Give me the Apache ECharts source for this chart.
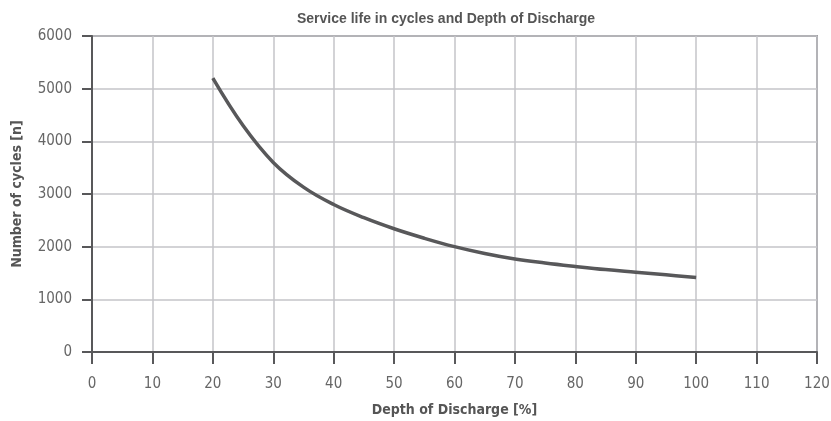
<!DOCTYPE html>
<html>
<head>
<meta charset="utf-8">
<script src="https://cdn.jsdelivr.net/npm/echarts@6/dist/echarts.min.js"></script>
<style>
  html, body { margin: 0; padding: 0; background: #fff; }
  #chart { width: 831px; height: 421px; }
</style>
</head>
<body>
<div id="chart"></div>
<script>
// depth of discharge [%] and cycles
var dod = [20, 25, 30, 35, 40, 45, 50, 55, 60, 65, 70, 75, 80, 85, 90, 95, 100];
var cycles = [5200, 4300, 3600, 3130, 2800, 2550, 2340, 2160, 2000, 1870, 1765, 1690, 1625, 1565, 1515, 1465, 1415];
var xTicks = [0, 120, 10];
var yTicks = [0, 6000, 1000];

var labelFont = '"DejaVu Sans Condensed", "Liberation Sans", sans-serif';
var dark = '#58585a';
var gridCol = '#c4c4c8';

var chart = echarts.init(document.getElementById('chart'));
var option = {
  animation: false,
  title: {
    text: 'Service life in cycles and Depth of Discharge',
    left: 441,
    top: 7,
    textAlign: 'center',
    textStyle: { fontFamily: '"Liberation Sans", sans-serif', fontSize: 14, fontWeight: 'bold', color: '#555' }
  },
  grid: {
    left: 92, right: 14, top: 36, bottom: 69,
    containLabel: false,
    outerBoundsMode: 'none',
    show: true, borderColor: dark, borderWidth: 1.5
  },
  xAxis: {
    type: 'value',
    min: xTicks[0], max: xTicks[1], interval: xTicks[2],
    name: 'Depth of Discharge [%]',
    nameLocation: 'middle',
    nameGap: 51,
    nameTextStyle: { fontFamily: labelFont, fontSize: 14, fontWeight: 'bold', color: '#555' },
    axisLine: { lineStyle: { color: dark, width: 2 } },
    axisTick: { show: true, length: 12, lineStyle: { color: dark, width: 2 } },
    axisLabel: { margin: 25, fontFamily: labelFont, fontSize: 15, color: '#666' },
    splitLine: { lineStyle: { color: gridCol, width: 1.5 } }
  },
  yAxis: {
    type: 'value',
    min: yTicks[0], max: yTicks[1], interval: yTicks[2],
    name: 'Number of cycles [n]',
    nameLocation: 'middle',
    nameGap: 68,
    nameTextStyle: { fontFamily: labelFont, fontSize: 14, fontWeight: 'bold', color: '#555' },
    axisLine: { show: true, lineStyle: { color: dark, width: 2 } },
    axisTick: { show: true, length: 10, lineStyle: { color: dark, width: 2 } },
    axisLabel: {
      margin: 20, fontFamily: labelFont, fontSize: 15, color: '#666',
      formatter: function (v) { return String(v); }
    },
    splitLine: { lineStyle: { color: gridCol, width: 1.5 } }
  },
  series: [{
    type: 'line',
    data: dod.map(function (d, i) { return [d, cycles[i]]; }),
    smooth: 0.4,
    symbol: 'none',
    lineStyle: { color: dark, width: 3.5 }
  }]
};
chart.setOption(option);
</script>
</body>
</html>
